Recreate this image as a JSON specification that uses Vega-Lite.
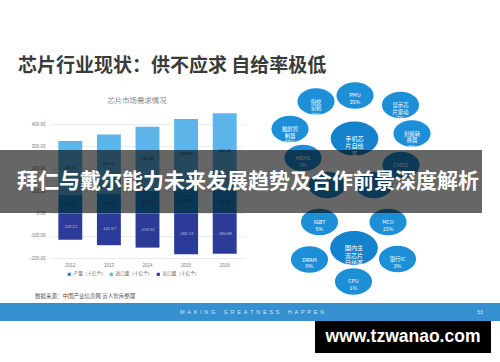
{
  "$schema": "https://vega.github.io/schema/vega-lite/v6.json",
  "width": 500,
  "height": 362,
  "autosize": "none",
  "padding": 0,
  "background": "#ffffff",
  "config": {
    "view": {"stroke": null},
    "font": "Noto Sans CJK SC",
    "locale": {"number": {"decimal": ".", "thousands": ",", "grouping": [3], "currency": ["", ""], "minus": "-"}}
  },
  "datasets": {
    "trade": [
      {"year": "2012", "series": "产量（十亿个）", "value": 82.27, "rank": 1},
      {"year": "2012", "series": "进口量（十亿个）", "value": 241.52, "rank": 2},
      {"year": "2012", "series": "出口量（十亿个）", "value": -118.21, "rank": 3},
      {"year": "2013", "series": "产量（十亿个）", "value": 86.76, "rank": 1},
      {"year": "2013", "series": "进口量（十亿个）", "value": 266.31, "rank": 2},
      {"year": "2013", "series": "出口量（十亿个）", "value": -142.67, "rank": 3},
      {"year": "2014", "series": "产量（十亿个）", "value": 101.66, "rank": 1},
      {"year": "2014", "series": "进口量（十亿个）", "value": 285.68, "rank": 2},
      {"year": "2014", "series": "出口量（十亿个）", "value": -153.52, "rank": 3},
      {"year": "2015", "series": "产量（十亿个）", "value": 108.72, "rank": 1},
      {"year": "2015", "series": "进口量（十亿个）", "value": 313.99, "rank": 2},
      {"year": "2015", "series": "出口量（十亿个）", "value": -182.74, "rank": 3},
      {"year": "2016", "series": "产量（十亿个）", "value": 105.9, "rank": 1},
      {"year": "2016", "series": "进口量（十亿个）", "value": 342.45, "rank": 2},
      {"year": "2016", "series": "出口量（十亿个）", "value": -180.89, "rank": 3}
    ],
    "bubbles": [
      {"label": "指纹\n识别\n10%", "kind": "leaf", "gx": 63.2, "gy": 28.04},
      {"label": "PMU\n25%", "kind": "leaf", "gx": 71.0, "gy": 26.38},
      {"label": "显示芯\n片驱动\n7%", "kind": "leaf", "gx": 80.1, "gy": 29.01},
      {"label": "触屏控\n制器\n60%", "kind": "leaf", "gx": 58.0, "gy": 35.64},
      {"label": "手机芯\n片自给\n率", "kind": "hub", "gx": 70.9, "gy": 38.26},
      {"label": "射频转\n换器\n3%", "kind": "leaf", "gx": 82.4, "gy": 36.88},
      {"label": "MEMS\n7%", "kind": "leaf", "gx": 60.6, "gy": 43.65},
      {"label": "CMOS\n45%", "kind": "leaf", "gx": 80.2, "gy": 45.58},
      {"label": "", "kind": "leaf", "gx": 65.4, "gy": 51.1},
      {"label": "", "kind": "leaf", "gx": 74.8, "gy": 51.1},
      {"label": "IGBT\n5%", "kind": "leaf", "gx": 63.9, "gy": 61.33},
      {"label": "MCU\n15%", "kind": "leaf", "gx": 77.6, "gy": 61.33},
      {"label": "国内主\n流芯片\n自给率", "kind": "hub", "gx": 70.8, "gy": 68.51},
      {"label": "DRAM\n0%", "kind": "leaf", "gx": 61.9, "gy": 71.69},
      {"label": "银行IC\n3%", "kind": "leaf", "gx": 79.5, "gy": 71.55},
      {"label": "CPU\n1%", "kind": "leaf", "gx": 70.7, "gy": 77.76}
    ]
  },
  "layer": [
    {
      "data": {"name": "trade"},
      "transform": [
        {"stack": "value", "groupby": ["year"], "sort": [{"field": "rank", "order": "ascending"}], "as": ["y0", "y1"], "offset": "zero"},
        {"calculate": "(datum.y0 + datum.y1) / 2", "as": "ymid"}
      ],
      "encoding": {
        "x": {
          "field": "year", "type": "ordinal",
          "scale": {"range": [51, 244], "paddingInner": 0.38, "paddingOuter": 0.19},
          "axis": {"orient": "bottom", "offset": -104, "domain": false, "ticks": false, "labelAngle": 0, "labelFontSize": 4.5, "labelColor": "#7a7a7a", "labelPadding": 4, "title": null, "labelFont": "Liberation Sans"}
        }
      },
      "layer": [
        {
          "mark": {"type": "bar"},
          "encoding": {
            "y": {
              "field": "y0", "type": "quantitative",
              "scale": {"domain": [-200, 400], "range": [258, 124], "nice": false},
              "axis": {"orient": "left", "offset": -51, "values": [-200, -100, 0, 100, 200, 300, 400], "format": ".2f", "grid": true, "gridColor": "#e6e6e6", "gridWidth": 0.8, "domain": false, "ticks": false, "labelFontSize": 4.5, "labelColor": "#7a7a7a", "labelPadding": 6, "title": null, "labelFont": "Liberation Sans"}
            },
            "y2": {"field": "y1"},
            "color": {
              "field": "series", "type": "nominal",
              "scale": {"domain": ["产量（十亿个）", "进口量（十亿个）", "出口量（十亿个）"], "range": ["#1b87d6", "#5db4e8", "#2d3b98"]},
              "legend": {"orient": "none", "legendX": 67, "legendY": 272, "direction": "horizontal", "title": null, "symbolType": "square", "symbolSize": 10, "symbolStrokeWidth": 0, "labelFontSize": 4.6, "labelColor": "#666666", "labelOffset": 2, "columnPadding": 3, "padding": 0}
            }
          }
        },
        {
          "transform": [{"filter": "datum.value > 0"}],
          "mark": {"type": "text", "fontSize": 4.2, "color": "#34404c", "font": "Liberation Sans"},
          "encoding": {
            "y": {"field": "ymid", "type": "quantitative"},
            "text": {"field": "value", "type": "quantitative", "format": ".2f"}
          }
        },
        {
          "transform": [{"filter": "datum.value < 0"}],
          "mark": {"type": "text", "fontSize": 4.2, "color": "#b9c0dc", "font": "Liberation Sans"},
          "encoding": {
            "y": {"field": "ymid", "type": "quantitative"},
            "text": {"field": "value", "type": "quantitative", "format": ".2f"}
          }
        }
      ]
    },
    {
      "layer": [
        {
          "data": {"name": "bubbles"},
          "transform": [{"filter": "datum.kind == 'leaf'"}],
          "mark": {"type": "point", "filled": true, "opacity": 1, "color": "#1c8fd7", "size": 702, "shape": "M-1.4,0A1.4,1,0,1,0,1.4,0A1.4,1,0,1,0,-1.4,0Z"},
          "encoding": {
            "x": {"field": "gx", "type": "quantitative", "scale": {"domain": [0, 100]}, "axis": null},
            "y": {"field": "gy", "type": "quantitative", "scale": {"domain": [0, 100], "reverse": true}, "axis": null}
          }
        },
        {
          "data": {"name": "bubbles"},
          "transform": [{"filter": "datum.kind == 'hub'"}],
          "mark": {"type": "point", "filled": true, "opacity": 1, "color": "#1582cd", "size": 1156, "shape": "M-1.4,0A1.4,1,0,1,0,1.4,0A1.4,1,0,1,0,-1.4,0Z"},
          "encoding": {
            "x": {"field": "gx", "type": "quantitative", "scale": {"domain": [0, 100]}, "axis": null},
            "y": {"field": "gy", "type": "quantitative", "scale": {"domain": [0, 100], "reverse": true}, "axis": null}
          }
        },
        {
          "data": {"name": "bubbles"},
          "transform": [{"filter": "datum.kind == 'leaf'"}],
          "mark": {"type": "text", "color": "#ffffff", "fontSize": 5.3, "lineHeight": 6.6, "lineBreak": "\n", "align": "center", "baseline": "middle"},
          "encoding": {
            "x": {"field": "gx", "type": "quantitative", "scale": {"domain": [0, 100]}, "axis": null},
            "y": {"field": "gy", "type": "quantitative", "scale": {"domain": [0, 100], "reverse": true}, "axis": null},
            "text": {"field": "label"}
          }
        },
        {
          "data": {"name": "bubbles"},
          "transform": [{"filter": "datum.kind == 'hub'"}],
          "mark": {"type": "text", "color": "#ffffff", "fontSize": 6.2, "lineHeight": 7.6, "lineBreak": "\n", "align": "center", "baseline": "middle"},
          "encoding": {
            "x": {"field": "gx", "type": "quantitative", "scale": {"domain": [0, 100]}, "axis": null},
            "y": {"field": "gy", "type": "quantitative", "scale": {"domain": [0, 100], "reverse": true}, "axis": null},
            "text": {"field": "label"}
          }
        },
        {
          "data": {"values": [{"t": "芯片市场需求情况"}]},
          "mark": {"type": "text", "fontSize": 7.4, "color": "#8a8a8a", "align": "center", "baseline": "middle"},
          "encoding": {
            "x": {"datum": 27.4, "type": "quantitative", "scale": {"domain": [0, 100]}, "axis": null},
            "y": {"datum": 27.9, "type": "quantitative", "scale": {"domain": [0, 100], "reverse": true}, "axis": null},
            "text": {"field": "t"}
          }
        },
        {
          "data": {"values": [{"t": "数据来源：中国产业信息网 宜人智库整理"}]},
          "mark": {"type": "text", "fontSize": 5.5, "color": "#555555", "align": "left", "baseline": "middle"},
          "encoding": {
            "x": {"datum": 7.0, "type": "quantitative", "scale": {"domain": [0, 100]}, "axis": null},
            "y": {"datum": 81.77, "type": "quantitative", "scale": {"domain": [0, 100], "reverse": true}, "axis": null},
            "text": {"field": "t"}
          }
        },
        {
          "data": {"values": [{}]},
          "mark": {"type": "rect", "color": "#000000", "opacity": 0.6},
          "encoding": {
            "x": {"datum": 0, "type": "quantitative", "scale": {"domain": [0, 100]}, "axis": null},
            "x2": {"datum": 96.4},
            "y": {"datum": 41.44, "type": "quantitative", "scale": {"domain": [0, 100], "reverse": true}, "axis": null},
            "y2": {"datum": 58.84}
          }
        },
        {
          "data": {"values": [{"t": "拜仁与戴尔能力未来发展趋势及合作前景深度解析"}]},
          "mark": {"type": "text", "fontSize": 21, "fontWeight": "bold", "color": "#ffffff", "align": "center", "baseline": "middle"},
          "encoding": {
            "x": {"datum": 49.6, "type": "quantitative", "scale": {"domain": [0, 100]}, "axis": null},
            "y": {"datum": 50.14, "type": "quantitative", "scale": {"domain": [0, 100], "reverse": true}, "axis": null},
            "text": {"field": "t"}
          }
        },
        {
          "data": {"values": [{}]},
          "mark": {"type": "rect", "color": "#3590cf"},
          "encoding": {
            "x": {"datum": 0, "type": "quantitative", "scale": {"domain": [0, 100]}, "axis": null},
            "x2": {"datum": 100},
            "y": {"datum": 83.7, "type": "quantitative", "scale": {"domain": [0, 100], "reverse": true}, "axis": null},
            "y2": {"datum": 88.67}
          }
        },
        {
          "data": {"values": [{"t": "M\u2002A\u2002K\u2002I\u2002N\u2002G\u2002\u2002\u2002G\u2002R\u2002E\u2002A\u2002T\u2002N\u2002E\u2002S\u2002S\u2002\u2002\u2002H\u2002A\u2002P\u2002P\u2002E\u2002N"}]},
          "mark": {"type": "text", "fontSize": 5.5, "color": "#d4eaf8", "align": "center", "baseline": "middle", "font": "Liberation Sans"},
          "encoding": {
            "x": {"datum": 50.4, "type": "quantitative", "scale": {"domain": [0, 100]}, "axis": null},
            "y": {"datum": 86.19, "type": "quantitative", "scale": {"domain": [0, 100], "reverse": true}, "axis": null},
            "text": {"field": "t"}
          }
        },
        {
          "data": {"values": [{"t": "53"}]},
          "mark": {"type": "text", "fontSize": 5, "color": "#d4eaf8", "align": "center", "baseline": "middle", "font": "Liberation Sans"},
          "encoding": {
            "x": {"datum": 96.0, "type": "quantitative", "scale": {"domain": [0, 100]}, "axis": null},
            "y": {"datum": 86.19, "type": "quantitative", "scale": {"domain": [0, 100], "reverse": true}, "axis": null},
            "text": {"field": "t"}
          }
        },
        {
          "data": {"values": [{}]},
          "mark": {"type": "rect", "color": "#000000"},
          "encoding": {
            "x": {"datum": 63.0, "type": "quantitative", "scale": {"domain": [0, 100]}, "axis": null},
            "x2": {"datum": 98.2},
            "y": {"datum": 88.67, "type": "quantitative", "scale": {"domain": [0, 100], "reverse": true}, "axis": null},
            "y2": {"datum": 97.51}
          }
        },
        {
          "data": {"values": [{"t": "www.tzwanao.com"}]},
          "mark": {"type": "text", "fontSize": 17.5, "fontWeight": "bold", "color": "#ffffff", "align": "center", "baseline": "middle", "font": "Liberation Sans"},
          "encoding": {
            "x": {"datum": 80.6, "type": "quantitative", "scale": {"domain": [0, 100]}, "axis": null},
            "y": {"datum": 93.09, "type": "quantitative", "scale": {"domain": [0, 100], "reverse": true}, "axis": null},
            "text": {"field": "t"}
          }
        },
        {
          "data": {"values": [{"t": "芯片行业现状：供不应求 自给率极低"}]},
          "mark": {"type": "text", "fontSize": 19, "fontWeight": "bold", "color": "#3a3a3a", "align": "left", "baseline": "middle"},
          "encoding": {
            "x": {"datum": 3.6, "type": "quantitative", "scale": {"domain": [0, 100]}, "axis": null},
            "y": {"datum": 18.23, "type": "quantitative", "scale": {"domain": [0, 100], "reverse": true}, "axis": null},
            "text": {"field": "t"}
          }
        }
      ]
    }
  ],
  "resolve": {"scale": {"x": "independent", "y": "independent"}}
}
